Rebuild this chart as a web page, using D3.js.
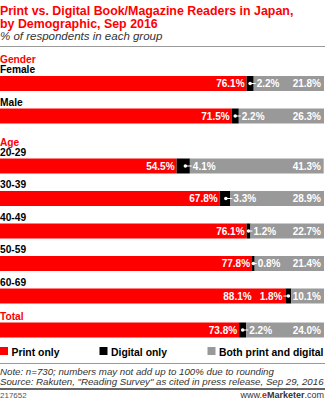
<!DOCTYPE html>
<html>
<head>
<meta charset="utf-8">
<script src="https://cdn.jsdelivr.net/npm/d3@7"></script>
<style>
  html, body { margin: 0; padding: 0; background: #fff; }
  svg { display: block; font-family: Arial, "Liberation Sans", sans-serif; }
</style>
</head>
<body>
<svg id="chart" width="325" height="400"></svg>
<script>
// ---- data ----
const groups = ["Gender", "Gender", "Age", "Age", "Age", "Age", "Age", "Total"];
const categories = ["Female", "Male", "20-29", "30-39", "40-49", "50-59", "60-69", "Total"];
const printOnly = [76.1, 71.5, 54.5, 67.8, 76.1, 77.8, 88.1, 73.8];
const digitalOnly = [2.2, 2.2, 4.1, 3.3, 1.2, 0.8, 1.8, 2.2];
const bothPrintDigital = [21.8, 26.3, 41.3, 28.9, 22.7, 21.4, 10.1, 24.0];
const seriesNames = ["Print only", "Digital only", "Both print and digital"];
const seriesKeys = ["print", "digital", "both"];
const colors = ["#ff0000", "#000000", "#999999"];

const titleLines = ["Print vs. Digital Book/Magazine Readers in Japan,", "by Demographic, Sep 2016"];
const subtitle = "% of respondents in each group";
const noteLines = ["Note: n=730; numbers may not add up to 100% due to rounding",
                   "Source: Rakuten, \"Reading Survey\" as cited in press release, Sep 29, 2016"];
const chartId = "217652";

// ---- setup ----
const svg = d3.select("#chart");
const W = 325;
const red = "#ff0000";

const rows = categories.map((c, i) => ({
  cat: c, group: groups[i],
  print: printOnly[i], digital: digitalOnly[i], both: bothPrintDigital[i]
}));

// layout of rows (vertical)
const barH = 15, rowStep = 32.5, groupGap = 1.5, headerExtra = 16;
let yCursor = 76;
rows.forEach((r, i) => {
  if (i > 0) {
    yCursor += rowStep;
    if (r.group !== rows[i - 1].group) {
      yCursor += groupGap;
      if (r.cat !== r.group) yCursor += headerExtra;
    }
  }
  r.y = yCursor;
  r.firstInGroup = i === 0 || r.group !== rows[i - 1].group;
});

const x = d3.scaleLinear().domain([0, 100]).range([0, 324]).clamp(true);

// ---- title ----
svg.append("g").selectAll("text").data(titleLines).join("text")
  .attr("x", 0).attr("y", (d, i) => 15 + i * 13)
  .attr("fill", red).attr("font-weight", "bold").attr("font-size", "12.4px")
  .text(d => d);
svg.append("text").attr("x", 0).attr("y", 40)
  .attr("font-style", "italic").attr("font-size", "11.5px").attr("fill", "#333")
  .text(subtitle);
svg.append("line").attr("x1", 0).attr("x2", W).attr("y1", 46.5).attr("y2", 46.5)
  .attr("stroke", "#999").attr("stroke-width", 1);

// ---- row labels ----
const labG = svg.append("g").attr("font-weight", "bold").attr("font-size", "10.2px");
rows.forEach(r => {
  if (r.cat === r.group) {
    labG.append("text").attr("x", 0).attr("y", r.y - 3).attr("fill", red).text(r.cat);
  } else {
    if (r.firstInGroup) {
      labG.append("text").attr("x", 0).attr("y", r.y - 13).attr("fill", red).text(r.group);
    }
    labG.append("text").attr("x", 0).attr("y", r.y - 3).attr("fill", "#000").text(r.cat);
  }
});

// ---- bars ----
const stack = d3.stack().keys(seriesKeys);
const stacked = stack(rows);
svg.append("g").selectAll("g").data(stacked).join("g")
  .attr("fill", (d, i) => colors[i])
  .selectAll("rect").data(d => d).join("rect")
  .attr("x", d => x(d[0]))
  .attr("y", d => d.data.y)
  .attr("width", d => Math.max(0, x(d[1]) - x(d[0])))
  .attr("height", barH);

// ---- value labels ----
const fmt = v => d3.format(".1f")(v) + "%";
const valG = svg.append("g").attr("font-weight", "bold").attr("font-size", "10px").attr("fill", "#fff");
rows.forEach((r, i) => {
  const ty = r.y + barH / 2 + 3.6;
  const p0 = x(0), p1 = x(r.print), d1 = x(r.print + r.digital), b1 = x(100);
  // both
  valG.append("text").attr("x", 321).attr("y", ty).attr("text-anchor", "end").text(fmt(r.both));
  const grayW = b1 - d1;
  let printEnd;
  if (grayW >= 50) {
    const cx = d1 - Math.min((d1 - p1) / 2, 4.5);
    const tx = d1 + 2;
    valG.append("circle").attr("cx", cx).attr("cy", r.y + barH / 2).attr("r", 1.8);
    valG.append("line").attr("x1", cx).attr("x2", tx).attr("y1", r.y + barH / 2).attr("y2", r.y + barH / 2)
      .attr("stroke", "#fff").attr("stroke-width", 1);
    valG.append("text").attr("x", tx + 1).attr("y", ty).text(fmt(r.digital));
    printEnd = p1 - 2;
  } else {
    const cx = (p1 + d1) / 2;
    const tEnd = p1 - 2;
    valG.append("circle").attr("cx", cx).attr("cy", r.y + barH / 2).attr("r", 1.8);
    valG.append("line").attr("x1", tEnd).attr("x2", cx).attr("y1", r.y + barH / 2).attr("y2", r.y + barH / 2)
      .attr("stroke", "#fff").attr("stroke-width", 1);
    const t = valG.append("text").attr("x", tEnd - 1).attr("y", ty).attr("text-anchor", "end").text(fmt(r.digital));
    const tw = t.node().getComputedTextLength();
    printEnd = tEnd - 1 - tw - 8;
  }
  valG.append("text").attr("x", printEnd).attr("y", ty).attr("text-anchor", "end").text(fmt(r.print));
});

// ---- legend ----
const legendX = [0, 99.5, 207.5];
const legG = svg.append("g").attr("font-weight", "bold").attr("font-size", "10.4px");
seriesNames.forEach((n, i) => {
  legG.append("rect").attr("x", legendX[i]).attr("y", 347).attr("width", 8).attr("height", 8).attr("fill", colors[i]);
  legG.append("text").attr("x", legendX[i] + 11.5).attr("y", 355.5).attr("fill", "#000").text(n);
});

// ---- footer ----
svg.append("line").attr("x1", 0).attr("x2", W).attr("y1", 363.5).attr("y2", 363.5)
  .attr("stroke", "#999").attr("stroke-width", 1);
svg.append("g").selectAll("text").data(noteLines).join("text")
  .attr("x", 0).attr("y", (d, i) => 375 + i * 9.5)
  .attr("font-style", "italic").attr("font-size", "9.7px").attr("fill", "#333")
  .text(d => d);
svg.append("line").attr("x1", 0).attr("x2", W).attr("y1", 389).attr("y2", 389)
  .attr("stroke", "#333").attr("stroke-width", 1.5);
svg.append("text").attr("x", 0).attr("y", 397.5).attr("font-size", "8px").attr("fill", "#555").text(chartId);
const brand = svg.append("text").attr("x", 324).attr("y", 397.5).attr("text-anchor", "end")
  .attr("font-size", "9px").attr("fill", "#333");
brand.append("tspan").text("www.");
brand.append("tspan").attr("fill", red).attr("font-weight", "bold").text("e");
brand.append("tspan").attr("font-weight", "bold").text("Marketer");
brand.append("tspan").text(".com");
</script>
</body>
</html>
